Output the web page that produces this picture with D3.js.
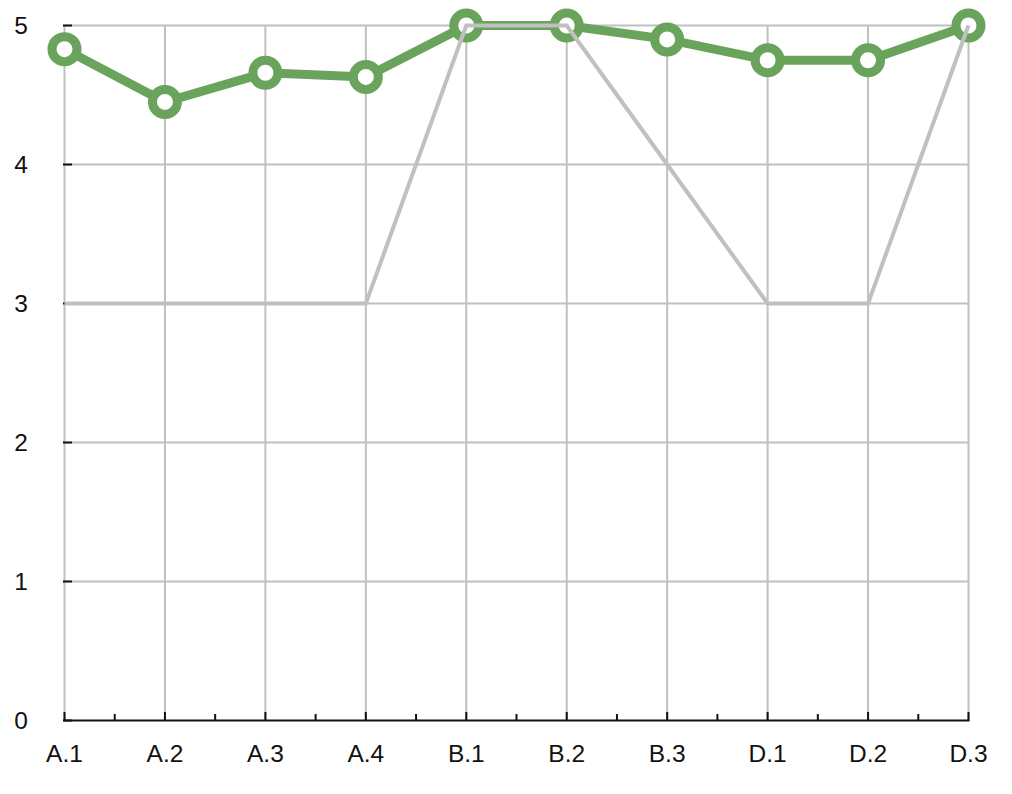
<!DOCTYPE html>
<html><head><meta charset="utf-8">
<script src="https://cdn.jsdelivr.net/npm/d3@7"></script>
<style>body{margin:0;background:#fff}text{font-family:"Liberation Sans",Arial,sans-serif}</style>
</head><body>
<svg id="c" width="1012" height="794"></svg>
<script>
const categories = ["A.1","A.2","A.3","A.4","B.1","B.2","B.3","D.1","D.2","D.3"];
const greenValues = [4.83,4.45,4.66,4.63,5,5,4.9,4.75,4.75,5];
const grayValues = [3,3,3,3,5,5,4,3,3,5];
const yTicks = [0,1,2,3,4,5];

const svg = d3.select("#c");
const x = d3.scalePoint().domain(categories).range([64.5,968.5]);
const y = d3.scaleLinear().domain([0,5]).range([720.5,25.5]);
const grid = "#c0c0c0";

// gridlines
svg.append("g").selectAll("line.h").data(yTicks.filter(d=>d>0)).join("line")
  .attr("x1",64.5).attr("x2",968.5).attr("y1",d=>y(d)).attr("y2",d=>y(d))
  .attr("stroke",grid).attr("stroke-width",2);
svg.append("g").selectAll("line.v").data(categories).join("line")
  .attr("x1",d=>x(d)).attr("x2",d=>x(d)).attr("y1",y(5)).attr("y2",y(0))
  .attr("stroke",grid).attr("stroke-width",2);

// y axis labels & ticks
svg.append("g").selectAll("text").data(yTicks).join("text")
  .attr("x",28).attr("y",d=>y(d)+8.5).attr("text-anchor","end")
  .attr("font-size",24.5).attr("fill","#111").text(d=>d);
svg.append("g").selectAll("line").data(yTicks).join("line")
  .attr("x1",63).attr("x2",72).attr("y1",d=>y(d)).attr("y2",d=>y(d))
  .attr("stroke","#111").attr("stroke-width",2);

// x axis
svg.append("line").attr("x1",63.5).attr("x2",969.5).attr("y1",720.5).attr("y2",720.5)
  .attr("stroke","#111").attr("stroke-width",2);
svg.append("g").selectAll("line").data(categories).join("line")
  .attr("x1",d=>x(d)).attr("x2",d=>x(d)).attr("y1",720.5).attr("y2",712)
  .attr("stroke","#111").attr("stroke-width",2);
const step = x.step();
svg.append("g").selectAll("line").data(categories.slice(0,-1)).join("line")
  .attr("x1",d=>x(d)+step/2).attr("x2",d=>x(d)+step/2).attr("y1",720.5).attr("y2",714)
  .attr("stroke","#111").attr("stroke-width",2);
svg.append("g").selectAll("text").data(categories).join("text")
  .attr("x",d=>x(d)).attr("y",762).attr("text-anchor","middle")
  .attr("font-size",24.5).attr("fill","#111").text(d=>d);

// green series
const line = d3.line().x((d,i)=>x(categories[i])).y(d=>y(d));
svg.append("path").datum(greenValues).attr("d",line).attr("fill","none")
  .attr("stroke","#6aa35b").attr("stroke-width",9).attr("stroke-linejoin","round");
svg.append("g").selectAll("circle").data(greenValues).join("circle")
  .attr("cx",(d,i)=>x(categories[i])).attr("cy",d=>y(d)).attr("r",12.5)
  .attr("fill","#fff").attr("stroke","#6aa35b").attr("stroke-width",9);

// gray series
svg.append("path").datum(grayValues).attr("d",line).attr("fill","none")
  .attr("stroke","#c0c0c0").attr("stroke-width",4).attr("stroke-linejoin","miter");
</script>
</body></html>
